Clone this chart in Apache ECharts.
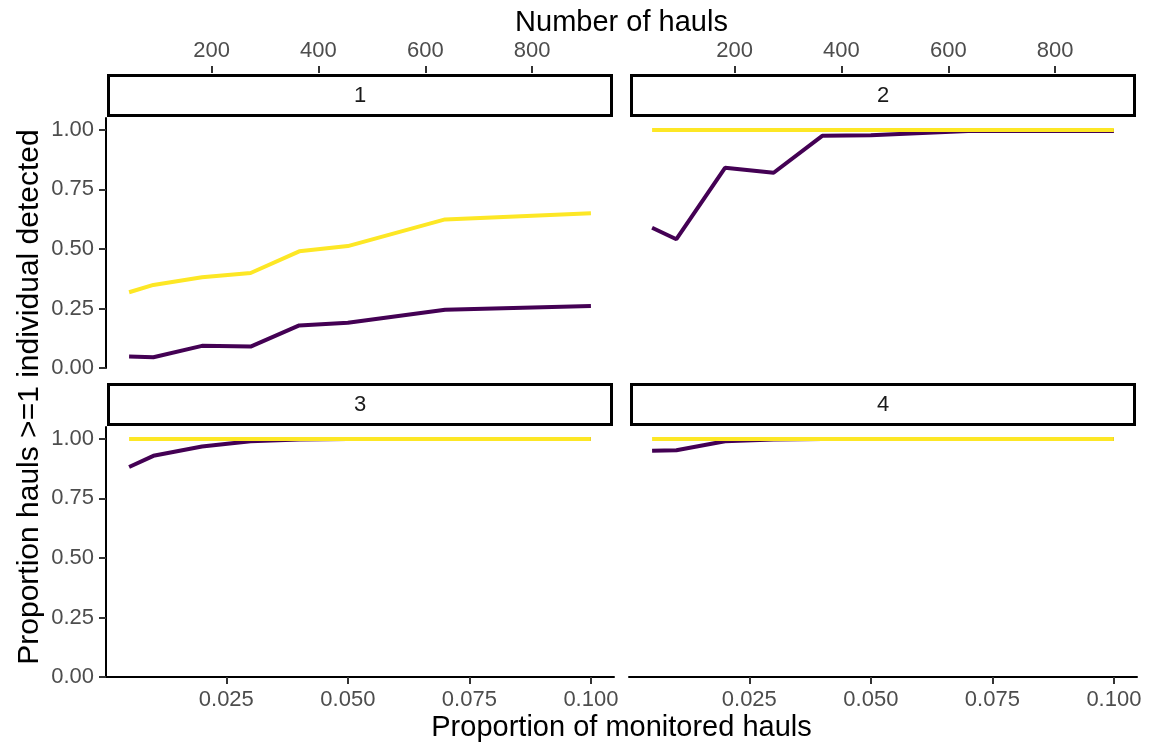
<!DOCTYPE html>
<html><head><meta charset="utf-8">
<script src="https://cdn.jsdelivr.net/npm/echarts@6/dist/echarts.min.js"></script>
<style>html,body{margin:0;padding:0;background:#fff}#c{width:1153px;height:746px}</style>
</head><body><div id="c"></div>
<script>
// ---- data ----
const proportions = [0.005, 0.01, 0.02, 0.03, 0.04, 0.05, 0.07, 0.1];
const panelNames = ['1', '2', '3', '4'];
const purpleP1 = [0.048, 0.045, 0.093, 0.090, 0.179, 0.190, 0.245, 0.260];
const purpleP2 = [0.589, 0.541, 0.841, 0.820, 0.975, 0.978, 0.995, 0.995];
const purpleP3 = [0.882, 0.929, 0.968, 0.990, 0.997, 1.0, 1.0, 1.0];
const purpleP4 = [0.950, 0.952, 0.990, 0.998, 1.0, 1.0, 1.0, 1.0];
const yellowP1 = [0.318, 0.349, 0.381, 0.399, 0.490, 0.512, 0.624, 0.650];
const yellowP2 = [1.0, 1.0, 1.0, 1.0, 1.0, 1.0, 1.0, 1.0];
const yellowP3 = [1.0, 1.0, 1.0, 1.0, 1.0, 1.0, 1.0, 1.0];
const yellowP4 = [1.0, 1.0, 1.0, 1.0, 1.0, 1.0, 1.0, 1.0];
const xTickValues = [0.025, 0.05, 0.075, 0.1];
const yTickValues = [0, 0.25, 0.5, 0.75, 1];
const haulTickValues = [200, 400, 600, 800];
const haulsPerProportion = 9100;
const xTitle = 'Proportion of monitored hauls';
const topTitle = 'Number of hauls';
const yTitle = 'Proportion hauls >=1 individual detected';

// ---- layout / style ----
const FONT = 'Liberation Sans, Arial, sans-serif';
const PURPLE = '#440154', YELLOW = '#FDE725';
const GW = 508, GH = 250;
const TICK_FS = 22, TITLE_FS = 29;
const grids = [
  {left: 106, top: 118}, {left: 629, top: 118},
  {left: 106, top: 427}, {left: 629, top: 427}
];
const xMin = 0.00025, xMax = 0.10475;
const purples = [purpleP1, purpleP2, purpleP3, purpleP4];
const yellows = [yellowP1, yellowP2, yellowP3, yellowP4];

const chart = echarts.init(document.getElementById('c'), null, {renderer: 'canvas'});

const gridOpts = grids.map(g => ({left: g.left, top: g.top, width: GW, height: GH, containLabel: false}));
const xAxes = [], yAxes = [], series = [], graphics = [];
grids.forEach((g, i) => {
  const bottom = i >= 2, left = i % 2 === 0;
  xAxes.push({
    type: 'value', gridIndex: i, min: xMin, max: xMax, position: 'bottom',
    splitLine: {show: false},
    axisLine: {show: bottom, onZero: false, lineStyle: {color: '#000', width: 2}},
    axisTick: {show: bottom, length: 7, customValues: xTickValues, lineStyle: {color: '#333', width: 2}},
    axisLabel: {show: bottom, customValues: xTickValues, margin: 12, color: '#4D4D4D', fontSize: TICK_FS, fontFamily: FONT,
      formatter: v => v.toFixed(3)}
  });
  yAxes.push({
    type: 'value', gridIndex: i, min: 0, max: 1.05,
    splitLine: {show: false},
    axisLine: {show: left, onZero: false, lineStyle: {color: '#000', width: 2}},
    axisTick: {show: left, length: 7, customValues: yTickValues, lineStyle: {color: '#333', width: 2}},
    axisLabel: {show: left, customValues: yTickValues, margin: 12, color: '#4D4D4D', fontSize: TICK_FS, fontFamily: FONT,
      formatter: v => v.toFixed(2)}
  });
  series.push({
    type: 'line', xAxisIndex: i, yAxisIndex: i, showSymbol: false, symbol: 'none',
    lineStyle: {color: PURPLE, width: 4}, itemStyle: {color: PURPLE},
    data: proportions.map((p, j) => [p, purples[i][j]]), z: 2
  });
  series.push({
    type: 'line', xAxisIndex: i, yAxisIndex: i, showSymbol: false, symbol: 'none',
    lineStyle: {color: YELLOW, width: 4}, itemStyle: {color: YELLOW},
    data: proportions.map((p, j) => [p, yellows[i][j]]), z: 3
  });
  // strip
  graphics.push({
    type: 'rect', shape: {x: g.left + 2.5, y: g.top - 42.5, width: GW - 5, height: 40},
    style: {fill: '#fff', stroke: '#000', lineWidth: 3}
  });
  graphics.push({
    type: 'text', x: g.left + GW / 2, y: g.top - 22,
    style: {text: panelNames[i], fill: '#1A1A1A', fontSize: TICK_FS, fontFamily: FONT, align: 'center', verticalAlign: 'middle'}
  });
});
// top secondary axes (number of hauls) for the top row, each on a thin helper grid sitting on the strip's top edge
[0, 1].forEach(i => {
  const gi = gridOpts.length;
  gridOpts.push({left: grids[i].left, top: grids[i].top - 45, width: GW, height: 1, containLabel: false});
  yAxes.push({type: 'value', gridIndex: gi, min: 0, max: 1, show: false});
  xAxes.push({
    type: 'value', gridIndex: gi, position: 'top',
    min: xMin * haulsPerProportion, max: xMax * haulsPerProportion,
    splitLine: {show: false},
    axisLine: {show: false, onZero: false},
    axisTick: {show: true, length: 7, customValues: haulTickValues, lineStyle: {color: '#333', width: 2}},
    axisLabel: {show: true, customValues: haulTickValues, margin: 11, color: '#4D4D4D', fontSize: TICK_FS, fontFamily: FONT}
  });
});
graphics.push({type: 'text', x: 621.5, y: 23,
  style: {text: topTitle, fill: '#000', fontSize: TITLE_FS, fontFamily: FONT, align: 'center', verticalAlign: 'middle'}});
graphics.push({type: 'text', x: 621.5, y: 728,
  style: {text: xTitle, fill: '#000', fontSize: TITLE_FS, fontFamily: FONT, align: 'center', verticalAlign: 'middle'}});
graphics.push({type: 'text', x: 30, y: 397, rotation: Math.PI / 2,
  style: {text: yTitle, fill: '#000', fontSize: 30, fontFamily: FONT, align: 'center', verticalAlign: 'middle'}});

chart.setOption({
  animation: false,
  backgroundColor: '#fff',
  grid: gridOpts,
  xAxis: xAxes,
  yAxis: yAxes,
  series: series,
  graphic: graphics
});
</script></body></html>
